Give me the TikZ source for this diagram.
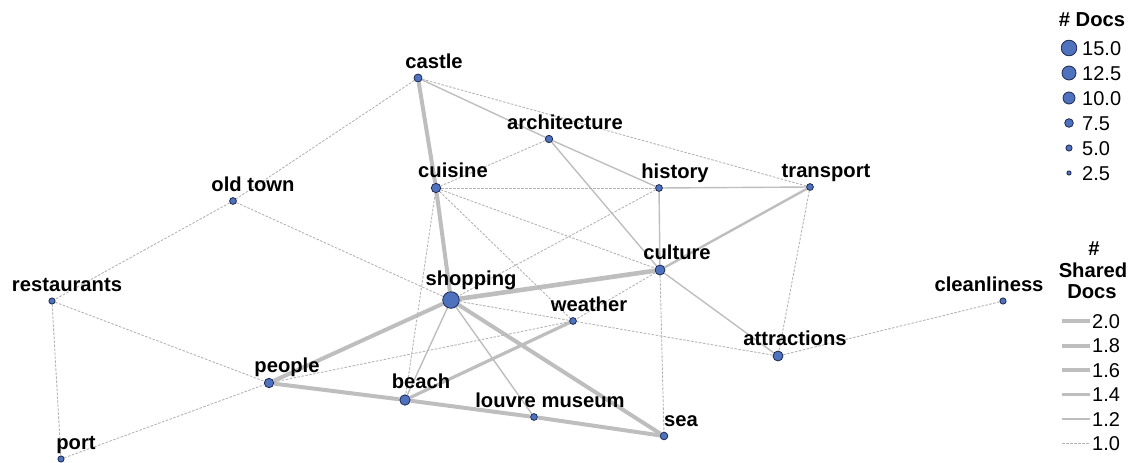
\documentclass[tikz,border=0pt]{standalone}
\usepackage{fontspec}
\setmainfont{Liberation Sans}
\usetikzlibrary{backgrounds}
\definecolor{nodefill}{RGB}{79,114,191}
\definecolor{nodeline}{RGB}{30,40,80}
\definecolor{edgecol}{RGB}{190,190,190}
\definecolor{dashcol}{RGB}{180,180,180}
\begin{document}
\begin{tikzpicture}[x=1pt,y=-1pt,
  docnode/.style={circle, fill=nodefill, draw=nodeline, line width=0.8pt, inner sep=0pt, minimum size=#1},
  lab/.style={font=\fontsize{20.2}{23}\selectfont\bfseries, inner sep=0pt, anchor=base},
  num/.style={font=\fontsize{20}{23}\selectfont, inner sep=0pt, anchor=base west},
  e20/.style={draw=edgecol, line width=4.6pt},
  e18/.style={draw=edgecol, line width=4.0pt},
  e16/.style={draw=edgecol, line width=3.2pt},
  e14/.style={draw=edgecol, line width=2.4pt},
  e12/.style={draw=edgecol, line width=1.4pt},
  e10/.style={draw=dashcol, line width=0.9pt, dash pattern=on 2.5pt off 1.5pt}
]
\useasboundingbox (0,0) rectangle (1135,463);

% nodes
\foreach \n/\x/\y/\d/\o/\t in {
  castle/418/78/8/16/castle,
  architecture/549/139/7.4/16/architecture,
  cuisine/436/188/9.4/17/cuisine,
  history/659/188/6.8/16/history,
  transport/810/187/6.8/16/transport,
  oldtown/233/201/6.8/20/old town,
  culture/660/270/10/17/culture,
  shopping/451/300/16.6/20/shopping,
  weather/573/321/6.8/16/weather,
  restaurants/52/301/6.2/15/restaurants,
  cleanliness/1003/301/6.2/-14/cleanliness,
  attractions/778/356/10/17/attractions,
  people/269/383/9.4/18/people,
  beach/405/400/10.4/16/beach,
  louvre/534/417/6.8/16/louvre museum,
  sea/664/436/7.6/17/sea,
  port/61/459/6.2/15/port}{
  \node[docnode=\d pt] (\n) at (\x,\y) {};
  \node[lab] (\n-lab) at (\x+\o,\y-\d/2-6) {\t};
}

% edges
\begin{pgfonlayer}{background}
\draw[e20] (shopping) -- (culture);
\draw[e18] (castle) -- (cuisine);
\draw[e18] (cuisine) -- (shopping);
\draw[e18] (shopping) -- (people);
\draw[e18] (people) -- (beach);
\draw[e18] (beach) -- (louvre);
\draw[e18] (louvre) -- (sea);
\draw[e18] (shopping) -- (sea);
\draw[e16] (beach) -- (weather);
\draw[e14] (culture) -- (transport);
\draw[e12] (castle) -- (architecture);
\draw[e12] (architecture) -- (history);
\draw[e12] (history) -- (transport);
\draw[e12] (culture) -- (history);
\draw[e12] (culture) -- (attractions);
\draw[e12] (shopping) -- (beach);
\draw[e12] (shopping) -- (louvre);
\draw[e12] (architecture) -- (culture);
\draw[e10] (castle) -- (oldtown);
\draw[e10] (castle) -- (transport);
\draw[e10] (oldtown) -- (restaurants);
\draw[e10] (oldtown) -- (shopping);
\draw[e10] (restaurants) -- (people);
\draw[e10] (restaurants) -- (port);
\draw[e10] (port) -- (people);
\draw[e10] (people) -- (weather);
\draw[e10] (cuisine) -- (beach);
\draw[e10] (cuisine) -- (history);
\draw[e10] (cuisine) -- (culture);
\draw[e10] (cuisine) -- (weather);
\draw[e10] (architecture) -- (cuisine);
\draw[e10] (history) -- (shopping);
\draw[e10] (shopping) -- (weather);
\draw[e10] (weather) -- (attractions);
\draw[e10] (culture) -- (weather);
\draw[e10] (culture) -- (sea);
\draw[e10] (transport) -- (attractions);
\draw[e10] (attractions) -- (cleanliness);
\end{pgfonlayer}

% legend: number of docs
\node[lab] (docs-title) at (1092,26) {\# Docs};
\foreach \i/\v/\d in {0/15.0/15.6, 1/12.5/14, 2/10.0/12, 3/7.5/8.6, 4/5.0/6.2, 5/2.5/4.2}{
  \node[docnode=\d pt] (legc-\i) at (1069,48+25*\i) {};
  \node[num] (legt-\i) at (1082,55+25*\i) {\v};
}

% legend: shared docs
\node[lab] (sh-title1) at (1094,255) {\#};
\node[lab] (sh-title2) at (1093,277) {Shared};
\node[lab] (sh-title3) at (1092,298) {Docs};
\foreach \i/\v/\w in {0/2.0/4.6, 1/1.8/4.0, 2/1.6/3.2, 3/1.4/2.4, 4/1.2/1.4}{
  \coordinate (sa-\i) at (1062,321+24.5*\i);
  \coordinate (sb-\i) at (1090,321+24.5*\i);
  \draw[draw=edgecol, line width=\w pt] (sa-\i) -- (sb-\i);
  \node[num] (st-\i) at (1092,328+24.5*\i) {\v};
}
\coordinate (sa-5) at (1062,443.5);
\coordinate (sb-5) at (1090,443.5);
\draw[e10] (sa-5) -- (sb-5);
\node[num] (st-5) at (1092,450.5) {1.0};
\end{tikzpicture}
\end{document}
